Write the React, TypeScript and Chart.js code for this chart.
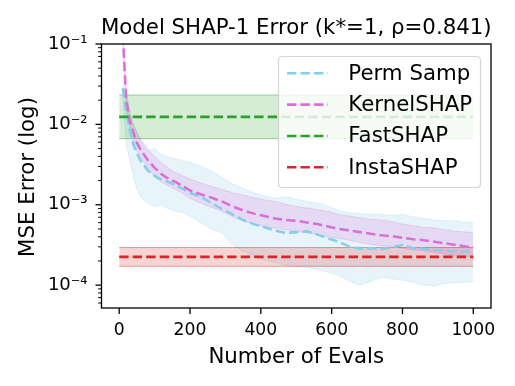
import React, { useEffect, useRef } from 'react';
import { Chart, registerables } from 'chart.js';
Chart.register(...registerables);

const TITLE = 'Model SHAP-1 Error (k*=1, ρ=0.841)';
const X_TITLE = 'Number of Evals';
const Y_TITLE = 'MSE Error (log)';

const EVALS = [10, 20, 30, 40, 50, 60, 80, 100, 120, 140, 160, 180, 200, 230, 260, 290, 320, 350, 380, 410, 440, 470, 500, 530, 560, 590, 620, 650, 680, 710, 740, 770, 800, 830, 860, 890, 920, 950, 980, 1000];

const PERM_MEAN = [0.0282, 0.0141, 0.00832, 0.00562, 0.00437, 0.00355, 0.00269, 0.00229, 0.00204, 0.00191, 0.00174, 0.00158, 0.00141, 0.00126, 0.00105, 0.000891, 0.000759, 0.000646, 0.000575, 0.000525, 0.000479, 0.000447, 0.000457, 0.000468, 0.000427, 0.00038, 0.000347, 0.000302, 0.000282, 0.000288, 0.000282, 0.000295, 0.000316, 0.000288, 0.000282, 0.000275, 0.000269, 0.000263, 0.000263, 0.000263];
const PERM_HI = [0.0331, 0.024, 0.0141, 0.01, 0.00794, 0.00631, 0.00468, 0.00501, 0.00417, 0.00389, 0.00372, 0.00355, 0.00339, 0.00302, 0.00263, 0.00219, 0.00182, 0.00158, 0.00141, 0.00129, 0.0012, 0.00126, 0.00117, 0.0011, 0.00105, 0.000955, 0.000851, 0.000794, 0.000776, 0.000759, 0.000759, 0.000741, 0.000759, 0.000708, 0.000676, 0.000646, 0.000631, 0.000631, 0.000603, 0.000603];
const PERM_LO = [0.0251, 0.00562, 0.00355, 0.00224, 0.00158, 0.00126, 0.00105, 0.000955, 0.001, 0.000891, 0.000832, 0.000794, 0.000724, 0.000603, 0.000501, 0.000447, 0.000316, 0.000263, 0.000234, 0.000204, 0.000191, 0.000178, 0.00017, 0.000166, 0.000158, 0.000145, 0.000132, 0.000112, 0.0001, 0.000112, 0.000126, 0.00012, 0.000115, 0.00011, 0.0001, 0.0000977, 0.000105, 0.000107, 0.00011, 0.00011];

const KERNEL_MEAN = [0.13, 0.01995, 0.01096, 0.00794, 0.00589, 0.0049, 0.00363, 0.00288, 0.0024, 0.00209, 0.00191, 0.0017, 0.00151, 0.00135, 0.00123, 0.0011, 0.000955, 0.000851, 0.000776, 0.000724, 0.000676, 0.000646, 0.000631, 0.000603, 0.000575, 0.000537, 0.000501, 0.000479, 0.000457, 0.000437, 0.000417, 0.000407, 0.000389, 0.000372, 0.000363, 0.000347, 0.000331, 0.000316, 0.000302, 0.000295];
const KERNEL_HI = [0.14, 0.024, 0.0135, 0.01, 0.00794, 0.00661, 0.00501, 0.00398, 0.00331, 0.00282, 0.00251, 0.00229, 0.00209, 0.00186, 0.0017, 0.00155, 0.00141, 0.00132, 0.00123, 0.00115, 0.0011, 0.00102, 0.000955, 0.000912, 0.000871, 0.000832, 0.000759, 0.000724, 0.000692, 0.000661, 0.000646, 0.000617, 0.000575, 0.00055, 0.000525, 0.000513, 0.00049, 0.000468, 0.000457, 0.000447];
const KERNEL_LO = [0.11, 0.0158, 0.00891, 0.00631, 0.00468, 0.00398, 0.00282, 0.00224, 0.00191, 0.0017, 0.00155, 0.00138, 0.0012, 0.00105, 0.000933, 0.000832, 0.000708, 0.000631, 0.000575, 0.000537, 0.000513, 0.00049, 0.000468, 0.000447, 0.000427, 0.000398, 0.00038, 0.000363, 0.000339, 0.000324, 0.000309, 0.000302, 0.000288, 0.000275, 0.000269, 0.000257, 0.000245, 0.000234, 0.000229, 0.000224];

const FLAT_X = [0, 1000];
const FAST_MEAN = [0.0124, 0.0124];
const FAST_HI = [0.0232, 0.0232];
const FAST_LO = [0.00665, 0.00665];
const INSTA_MEAN = [0.000225, 0.000225];
const INSTA_HI = [0.000294, 0.000294];
const INSTA_LO = [0.000172, 0.000172];

const X_TICKS = [0, 200, 400, 600, 800, 1000];
const Y_TICKS = [1e-4, 1e-3, 1e-2, 1e-1];
const Y_TICK_LABELS = ['10⁻⁴', '10⁻³', '10⁻²', '10⁻¹'];

const LEGEND_LABELS = ['Perm Samp', 'KernelSHAP', 'FastSHAP', 'InstaSHAP'];
const RGB = ['135,206,235', '218,112,214', '44,160,44', '214,39,40'];

const FONT = '"DejaVu Sans", Verdana, sans-serif';
const DASH = [9.4, 4.1];
const LW = 2.55;
const BIG = 21.3;

const pts = (xs: number[], ys: number[]) => xs.map((x, i) => ({ x, y: ys[i] }));

function meanDs(label: string, xs: number[], ys: number[], rgb: string, order: number) {
  return {
    label,
    data: pts(xs, ys),
    borderColor: `rgb(${rgb})`,
    borderWidth: LW,
    borderDash: DASH,
    pointRadius: 0,
    fill: false,
    tension: 0,
    order,
  };
}

function bandDs(xs: number[], hi: number[], lo: number[], rgb: string, loIndex: number, order: number, edgeAlpha: number) {
  return [
    {
      label: '_hi',
      data: pts(xs, hi),
      borderColor: `rgba(${rgb},${edgeAlpha})`,
      borderWidth: 1,
      pointRadius: 0,
      backgroundColor: `rgba(${rgb},0.2)`,
      fill: loIndex,
      tension: 0,
      order,
    },
    {
      label: '_lo',
      data: pts(xs, lo),
      borderColor: `rgba(${rgb},${edgeAlpha})`,
      borderWidth: 1,
      pointRadius: 0,
      fill: false,
      tension: 0,
      order,
    },
  ];
}

const decor = {
  id: 'decor',
  afterDraw(chart: any) {
    const { ctx, chartArea: a, scales } = chart;
    const xs = scales.x;
    const ys = scales.y;
    ctx.save();
    ctx.strokeStyle = '#000';
    ctx.lineWidth = 1.3;
    ctx.setLineDash([]);
    ctx.strokeRect(a.left, a.top, a.right - a.left, a.bottom - a.top);
    // x ticks
    ctx.beginPath();
    X_TICKS.forEach((v) => {
      const px = xs.getPixelForValue(v);
      ctx.moveTo(px, a.bottom);
      ctx.lineTo(px, a.bottom + 6);
    });
    ctx.stroke();
    // y ticks
    for (let e = -5; e <= -1; e++) {
      for (let m = 1; m <= 9; m++) {
        const v = m * Math.pow(10, e);
        if (v < ys.min * 0.999 || v > ys.max * 1.001) continue;
        const py = ys.getPixelForValue(v);
        ctx.beginPath();
        ctx.lineWidth = m === 1 ? 1.3 : 1.0;
        ctx.moveTo(a.left, py);
        ctx.lineTo(a.left - (m === 1 ? 6 : 3.4), py);
        ctx.stroke();
      }
    }
    // texts
    ctx.fillStyle = '#000';
    ctx.font = `${BIG}px ${FONT}`;
    ctx.textAlign = 'center';
    ctx.textBaseline = 'alphabetic';
    ctx.fillText(TITLE, (a.left + a.right) / 2, 34.3);
    ctx.fillText(X_TITLE, (a.left + a.right) / 2, 362.7);
    ctx.save();
    ctx.translate(33.5, 177);
    ctx.rotate(-Math.PI / 2);
    ctx.fillText(Y_TITLE, 0, 0);
    ctx.restore();

    // legend
    const bx = 278.5, by = 56.5, bw = 202, bh = 131, r = 4;
    ctx.beginPath();
    ctx.moveTo(bx + r, by);
    ctx.lineTo(bx + bw - r, by);
    ctx.quadraticCurveTo(bx + bw, by, bx + bw, by + r);
    ctx.lineTo(bx + bw, by + bh - r);
    ctx.quadraticCurveTo(bx + bw, by + bh, bx + bw - r, by + bh);
    ctx.lineTo(bx + r, by + bh);
    ctx.quadraticCurveTo(bx, by + bh, bx, by + bh - r);
    ctx.lineTo(bx, by + r);
    ctx.quadraticCurveTo(bx, by, bx + r, by);
    ctx.closePath();
    ctx.fillStyle = 'rgba(255,255,255,0.8)';
    ctx.fill();
    ctx.strokeStyle = 'rgba(204,204,204,0.8)';
    ctx.lineWidth = 1.2;
    ctx.stroke();

    ctx.textAlign = 'left';
    ctx.textBaseline = 'middle';
    LEGEND_LABELS.forEach((lab, i) => {
      const yy = 73.3 + i * 31.3;
      ctx.beginPath();
      ctx.setLineDash(DASH);
      ctx.strokeStyle = `rgb(${RGB[i]})`;
      ctx.lineWidth = LW;
      ctx.moveTo(287, yy);
      ctx.lineTo(328, yy);
      ctx.stroke();
      ctx.setLineDash([]);
      ctx.fillStyle = '#000';
      ctx.fillText(lab, 348.3, yy + 1);
    });
    ctx.restore();
  },
};

export default function App() {
  const ref = useRef<HTMLCanvasElement | null>(null);
  useEffect(() => {
    document.body.style.margin = '0';
    const datasets: any[] = [];
    // indices: 0 perm mean, 1 kernel mean, 2 fast mean, 3 insta mean
    datasets.push(meanDs('Perm Samp', EVALS, PERM_MEAN, RGB[0], 4));
    datasets.push(meanDs('KernelSHAP', EVALS, KERNEL_MEAN, RGB[1], 3));
    datasets.push(meanDs('FastSHAP', FLAT_X, FAST_MEAN, RGB[2], 2));
    datasets.push(meanDs('InstaSHAP', FLAT_X, INSTA_MEAN, RGB[3], 1));
    // bands: 4/5 perm, 6/7 kernel, 8/9 fast, 10/11 insta
    datasets.push(...bandDs(EVALS, PERM_HI, PERM_LO, RGB[0], 5, 8, 0.25));
    datasets.push(...bandDs(EVALS, KERNEL_HI, KERNEL_LO, RGB[1], 7, 7, 0.25));
    datasets.push(...bandDs(FLAT_X, FAST_HI, FAST_LO, RGB[2], 9, 6, 0.45));
    datasets.push(...bandDs(FLAT_X, INSTA_HI, INSTA_LO, RGB[3], 11, 5, 0.45));

    const tickFont = { family: FONT, size: 17.2 };
    const chart = new Chart(ref.current as HTMLCanvasElement, {
      type: 'line',
      data: { datasets },
      plugins: [decor],
      options: {
        animation: false,
        responsive: false,
        devicePixelRatio: 1,
        events: [],
        layout: { padding: { top: 44, right: 24, left: 0, bottom: 0 } },
        plugins: {
          legend: { display: false },
          tooltip: { enabled: false },
          title: { display: false },
        },
        scales: {
          x: {
            type: 'linear',
            min: -50,
            max: 1050,
            grid: { display: false, drawTicks: false },
            border: { display: false },
            afterBuildTicks: (s: any) => {
              s.ticks = X_TICKS.map((v) => ({ value: v }));
            },
            afterFit: (s: any) => {
              s.height = 78;
            },
            ticks: {
              font: tickFont,
              color: '#000',
              padding: 12,
              maxRotation: 0,
              autoSkip: false,
              callback: (v: any) => String(v),
            },
          },
          y: {
            type: 'logarithmic',
            min: 5.2e-5,
            max: 0.1,
            grid: { display: false, drawTicks: false },
            border: { display: false },
            afterBuildTicks: (s: any) => {
              s.ticks = Y_TICKS.map((v) => ({ value: v }));
            },
            afterFit: (s: any) => {
              s.width = 101.5;
            },
            ticks: {
              font: { family: FONT, size: 18 },
              color: '#000',
              padding: 14,
              autoSkip: false,
              callback: (v: any) => {
                const i = Y_TICKS.findIndex((t) => Math.abs(t - v) / t < 1e-6);
                return i >= 0 ? Y_TICK_LABELS[i] : '';
              },
            },
          },
        },
      } as any,
    });
    return () => chart.destroy();
  }, []);
  return (
    <div style={{ position: 'absolute', left: 0, top: 0, width: 515, height: 386 }}>
      <canvas ref={ref} width={515} height={386} style={{ display: 'block', width: 515, height: 386 }} />
    </div>
  );
}
